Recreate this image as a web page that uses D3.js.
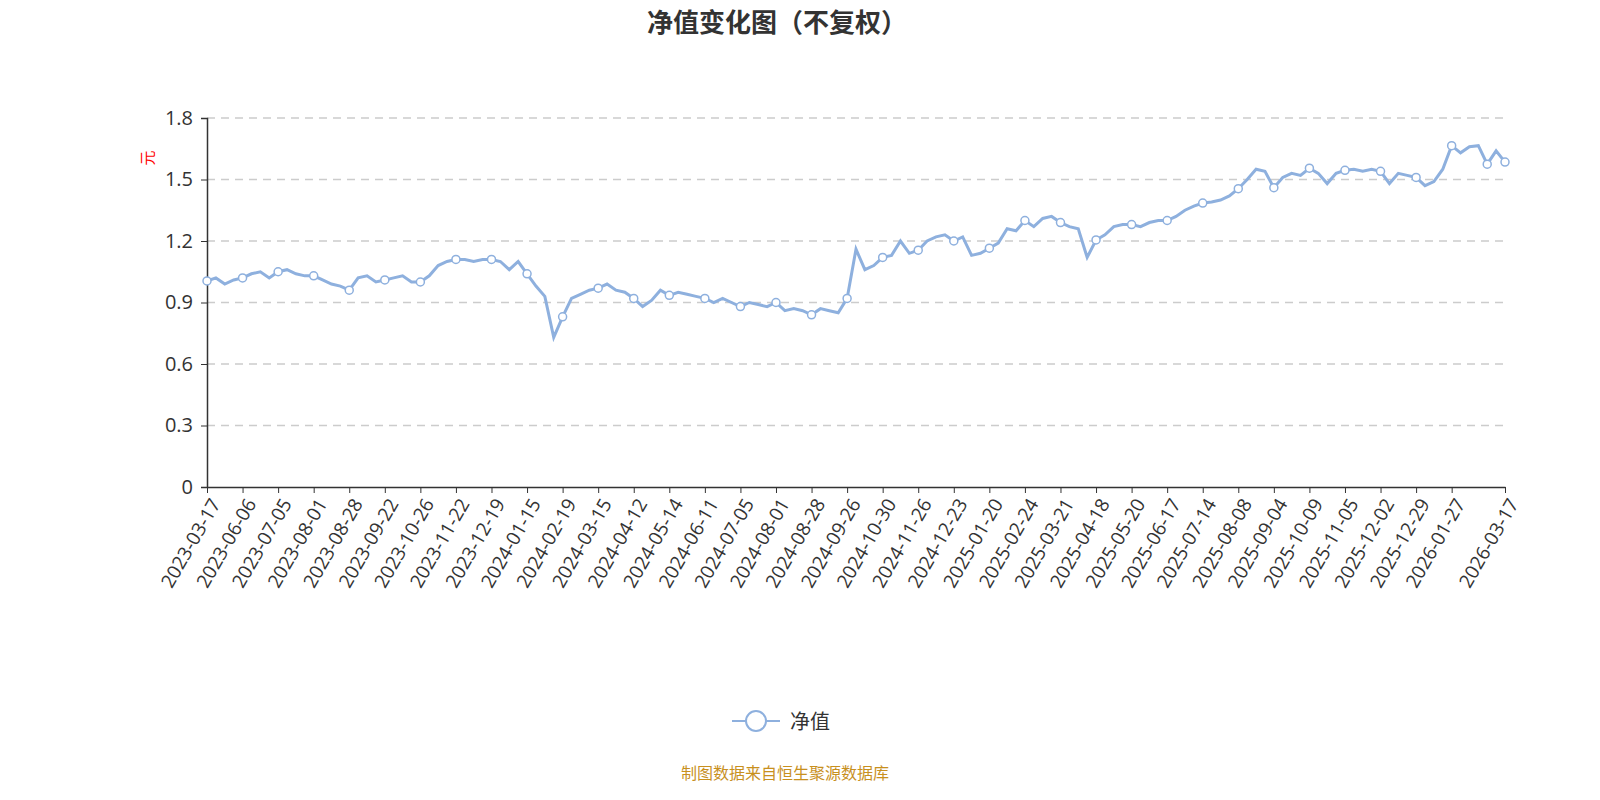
<!DOCTYPE html>
<html><head><meta charset="utf-8">
<script src="https://cdn.jsdelivr.net/npm/d3@7"></script>
<style>html,body{margin:0;background:#fff;overflow:hidden;font-family:"Noto Sans CJK SC","Noto Sans",sans-serif;}svg{display:block;}</style>
</head><body><div id="chart"></div>
<script>
var tickLabels = ["2023-03-17","2023-06-06","2023-07-05","2023-08-01","2023-08-28","2023-09-22","2023-10-26","2023-11-22","2023-12-19","2024-01-15","2024-02-19","2024-03-15","2024-04-12","2024-05-14","2024-06-11","2024-07-05","2024-08-01","2024-08-28","2024-09-26","2024-10-30","2024-11-26","2024-12-23","2025-01-20","2025-02-24","2025-03-21","2025-04-18","2025-05-20","2025-06-17","2025-07-14","2025-08-08","2025-09-04","2025-10-09","2025-11-05","2025-12-02","2025-12-29","2026-01-27","2026-03-17"];
var navValues = [1.005,1.02,0.99,1.01, 1.02,1.04,1.05,1.02, 1.05,1.06,1.04,1.03, 1.03,1.01,0.99,0.98,
 0.96,1.02,1.03,1.00, 1.01,1.02,1.03,1.00, 1.00,1.03,1.08,1.10, 1.11,1.11,1.10,1.11,
 1.11,1.10,1.06,1.10, 1.04,0.98,0.93,0.73, 0.83,0.92,0.94,0.96, 0.97,0.99,0.96,0.95,
 0.92,0.88,0.91,0.96, 0.935,0.95,0.94,0.93, 0.92,0.90,0.92,0.90, 0.88,0.90,0.89,0.88,
 0.90,0.86,0.87,0.86, 0.84,0.87,0.86,0.85, 0.92,1.16,1.06,1.08, 1.12,1.13,1.20,1.14,
 1.155,1.20,1.22,1.23, 1.20,1.22,1.13,1.14, 1.165,1.19,1.26,1.25, 1.30,1.27,1.31,1.32,
 1.29,1.27,1.26,1.12, 1.205,1.23,1.27,1.28, 1.28,1.27,1.29,1.30, 1.30,1.32,1.35,1.37,
 1.385,1.39,1.40,1.42, 1.455,1.50,1.55,1.54, 1.46,1.51,1.53,1.52, 1.555,1.53,1.48,1.53,
 1.545,1.55,1.54,1.55, 1.54,1.48,1.53,1.52, 1.51,1.47,1.49,1.55, 1.665,1.63,1.66,1.665,
 1.575,1.64,1.585];
var tickIndex = tickLabels.map(function(d,i){ return i < 36 ? i*4 : navValues.length-1; });
var yTicks = [0,0.3,0.6,0.9,1.2,1.5,1.8];

var W = 1600, H = 800, plotLeft = 207, plotRight = 1505, plotTop = 118, plotBottom = 487;
var svg = d3.select("#chart").append("svg").attr("width", W).attr("height", H);

var x = d3.scaleLinear().domain([0, navValues.length-1]).range([plotLeft, plotRight]);
var y = d3.scaleLinear().domain([0, 1.8]).range([plotBottom, plotTop]);

// grid
svg.append("g").selectAll("line").data(yTicks.slice(1)).enter().append("line")
  .attr("x1", plotLeft).attr("x2", plotRight)
  .attr("y1", function(d){ return y(d); }).attr("y2", function(d){ return y(d); })
  .attr("stroke", "#ccc").attr("stroke-width", 1.5).attr("stroke-dasharray", "8,6");

// y axis
var yAxis = svg.append("g").attr("transform", "translate(" + plotLeft + ",0)")
  .call(d3.axisLeft(y).tickValues(yTicks).tickFormat(function(d){ return d === 0 ? "0" : d.toFixed(1); }).tickSize(6).tickPadding(8));
yAxis.select(".domain").attr("stroke", "#333").attr("stroke-width", 1.5);
yAxis.selectAll(".tick line").attr("stroke", "#333");
yAxis.selectAll("text").attr("font-size", 20).attr("fill", "#333").attr("font-family", "Open Sans, sans-serif");

// x axis
var xAxis = svg.append("g").attr("transform", "translate(0," + plotBottom + ")")
  .call(d3.axisBottom(x).tickValues(tickIndex).tickFormat(function(d){ return tickLabels[tickIndex.indexOf(d)]; }).tickSize(6).tickSizeOuter(0));
xAxis.select(".domain").attr("stroke", "#333").attr("stroke-width", 1.5);
xAxis.selectAll(".tick line").attr("stroke", "#333");
xAxis.selectAll("text").attr("font-size", 19).attr("fill", "#333").attr("font-family", "Open Sans, sans-serif")
  .attr("text-anchor", "end").attr("dx", "0").attr("dy", "0")
  .attr("transform", "translate(6,12) rotate(-60)");

// line
svg.append("path").datum(navValues)
  .attr("fill", "none").attr("stroke", "#8eb0de").attr("stroke-width", 3)
  .attr("d", d3.line().x(function(d,i){ return x(i); }).y(function(d){ return y(d); }));

svg.append("g").selectAll("circle")
  .data(navValues.map(function(v,i){ return {i:i, v:v}; }).filter(function(d){ return d.i % 4 === 0 || d.i === navValues.length-1; }))
  .enter().append("circle")
  .attr("cx", function(d){ return x(d.i); }).attr("cy", function(d){ return y(d.v); })
  .attr("r", 4).attr("fill", "#fff").attr("stroke", "#8eb0de").attr("stroke-width", 1.5);

// title & labels
svg.append("text").attr("x", 777).attr("y", 32).attr("text-anchor", "middle")
  .attr("font-size", 26).attr("font-weight", "bold").attr("fill", "#333").text("净值变化图（不复权）");
svg.append("text").attr("transform", "translate(153,158) rotate(-90)").attr("text-anchor", "middle")
  .attr("font-size", 15).attr("fill", "red").text("元");

// legend
svg.append("line").attr("x1", 732).attr("x2", 780).attr("y1", 721).attr("y2", 721).attr("stroke", "#8eb0de").attr("stroke-width", 2);
svg.append("circle").attr("cx", 756).attr("cy", 721).attr("r", 10).attr("fill", "#fff").attr("stroke", "#8eb0de").attr("stroke-width", 2);
svg.append("text").attr("x", 790).attr("y", 729).attr("font-size", 20).attr("fill", "#333").text("净值");

svg.append("text").attr("x", 785).attr("y", 779).attr("text-anchor", "middle")
  .attr("font-size", 16).attr("fill", "#c8901e").text("制图数据来自恒生聚源数据库");
</script></body></html>
